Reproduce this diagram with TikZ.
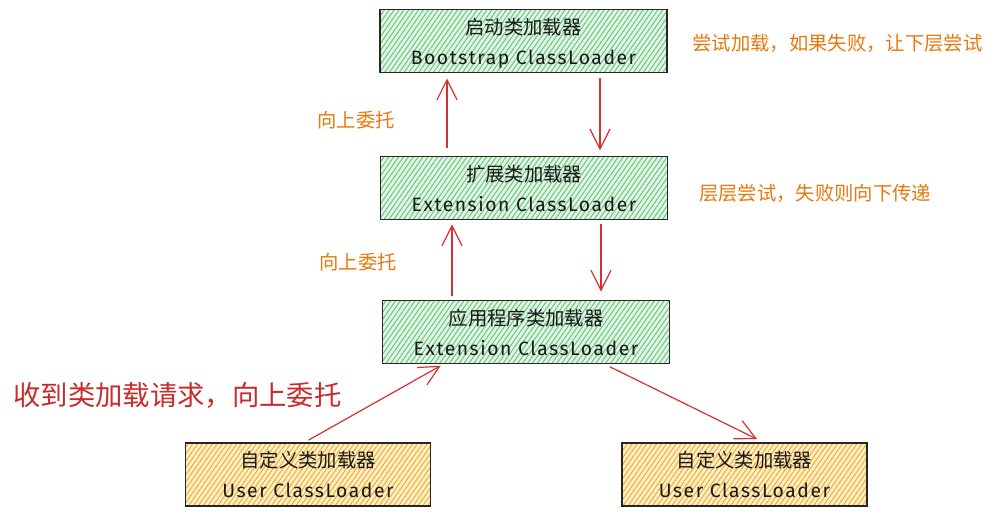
\documentclass[tikz,border=0pt]{standalone}
\usepackage{fontspec}
\setmainfont{Fira Sans}
\newfontfamily\cjk{Noto Sans CJK SC}
\newfontfamily\latinhand[LetterSpace=8]{Fira Sans}
\usetikzlibrary{arrows.meta,patterns.meta}

\definecolor{hatchgreen}{RGB}{110,196,130}
\definecolor{bggreen}{RGB}{225,245,229}
\definecolor{hatchorange}{RGB}{238,176,50}
\definecolor{bgorange}{RGB}{255,238,200}
\definecolor{notecolor}{RGB}{232,120,12}
\definecolor{arrowred}{RGB}{214,48,49}
\definecolor{bigred}{RGB}{201,42,42}

\newcommand{\boxlabel}[2]{{\cjk #1}\\{\latinhand #2}}

\tikzset{
  loaderbox/.style={draw=black!85, line width=1.1pt, rectangle, align=center,
    inner sep=0pt, minimum height=47.5pt, text=black!90,
    font=\fontsize{14.5}{22.5}\selectfont, text depth=0pt},
  sysbox/.style={loaderbox, minimum width=215pt,
    preaction={fill=bggreen},
    pattern={Lines[angle=55,distance=3pt,line width=0.75pt]}, pattern color=hatchgreen},
  userbox/.style={loaderbox, minimum width=184pt,
    preaction={fill=bgorange},
    pattern={Lines[angle=55,distance=3pt,line width=0.75pt]}, pattern color=hatchorange},
  flow/.style={draw=arrowred, line width=0.9pt,
    -{Straight Barb[length=15pt,width=15pt,line width=0.9pt]}},
  note/.style={text=notecolor, font=\cjk\fontsize{14.5}{16}\selectfont, inner sep=0pt},
  bignote/.style={text=bigred, font=\cjk\fontsize{20.5}{24}\selectfont, inner sep=0pt}
}

\begin{document}
\begin{tikzpicture}[x=0.75pt,y=-0.75pt]
  \useasboundingbox (0,0) rectangle (997,517);

  % loader hierarchy
  \node[sysbox] (boot) at (523.5,41) {\boxlabel{启动类加载器}{Bootstrap ClassLoader}};
  \node[sysbox] (ext)  at (524,188)  {\boxlabel{扩展类加载器}{Extension ClassLoader}};
  \node[sysbox] (app)  at (526,332)  {\boxlabel{应用程序类加载器}{Extension ClassLoader}};
  \node[userbox] (userL) at (308,474.5) {\boxlabel{自定义类加载器}{User ClassLoader}};
  \node[userbox] (userR) at (744.5,474.5) {\boxlabel{自定义类加载器}{User ClassLoader}};

  % delegation upwards and fallback downwards
  \draw[flow, shorten <=6pt, shorten >=4pt] (ext.north -| 447,0) -- (boot.south -| 447,0);
  \draw[flow, shorten <=4pt, shorten >=4pt] (boot.south -| 600,0) -- (ext.north -| 600,0);
  \draw[flow, shorten <=3pt, shorten >=3pt] (app.north -| 452,0) -- (ext.south -| 452,0);
  \draw[flow, shorten <=3pt, shorten >=6pt] (ext.south -| 601,0) -- (app.north -| 601,0);
  \draw[flow, shorten <=3pt, shorten >=2pt] (userL.north -| 305,0) -- (app.south -| 443,0);
  \draw[flow, shorten <=4pt, shorten >=5pt] (app.south -| 605,0) -- (userR.north -| 763,0);

  % annotations
  \node[note] (n1) at (356,120) {向上委托};
  \node[note] (n2) at (358,262) {向上委托};
  \node[note] (n3) at (837.5,43) {尝试加载，如果失败，让下层尝试};
  \node[note] (n4) at (815,193) {层层尝试，失败则向下传递};
  \node[bignote] (n5) at (177.5,395) {收到类加载请求，向上委托};
\end{tikzpicture}
\end{document}
